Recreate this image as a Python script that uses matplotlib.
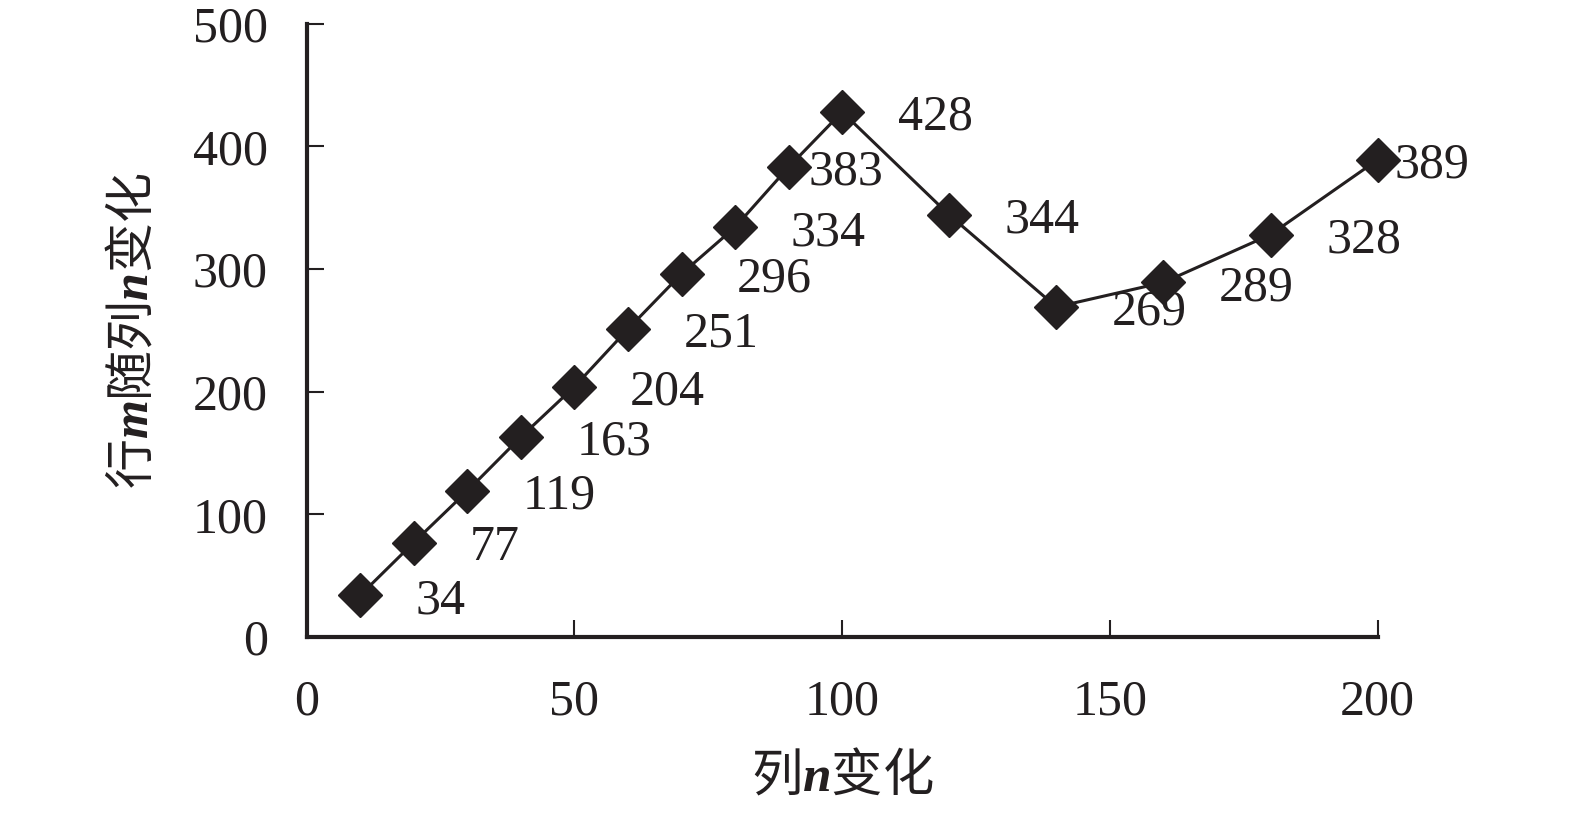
import matplotlib
matplotlib.use("Agg")
import matplotlib.pyplot as plt

plt.rcParams['font.family'] = ['Liberation Serif', 'Noto Sans CJK SC']
plt.rcParams['mathtext.fontset'] = 'custom'
plt.rcParams['mathtext.it'] = 'Liberation Serif:italic:bold'
plt.rcParams['mathtext.rm'] = 'Liberation Serif'

n_cols = [10, 20, 30, 40, 50, 60, 70, 80, 90, 100, 120, 140, 160, 180, 200]
m_rows = [34, 77, 119, 163, 204, 251, 296, 334, 383, 428, 344, 269, 289, 328, 389]
x_ticks = [0, 50, 100, 150, 200]
y_ticks = [0, 100, 200, 300, 400, 500]

fig = plt.figure(figsize=(15.75, 8.13), dpi=100)
ax = fig.add_axes([0.1947, 0.2165, 0.68, 0.7545])

ax.plot(n_cols, m_rows, color='#231f20', lw=2.2, marker='D', ms=22,
        mfc='#231f20', mec='#231f20', zorder=3, clip_on=False)

for xv, yv in zip(n_cols, m_rows):
    dx, dy = 40, -4
    if yv == 383:
        dx = 14
    if yv == 389:
        dx = 12
    ax.annotate(str(yv), (xv, yv), xytext=(dx, dy), textcoords='offset points',
                ha='left', va='center', fontsize=36, color='#231f20')

ax.set_xlim(0, 200)
ax.set_ylim(0, 500)
ax.set_xticks(x_ticks)
ax.set_yticks(y_ticks)
ax.tick_params(direction='in', length=12, width=1.5, labelsize=36,
               colors='#231f20', pad=28)
ax.tick_params(axis='x', pad=30)
for s in ['top', 'right']:
    ax.spines[s].set_visible(False)
for s in ['left', 'bottom']:
    ax.spines[s].set_linewidth(3)
    ax.spines[s].set_color('#231f20')

ax.set_xlabel('列$n$变化', fontsize=37, color='#231f20', labelpad=18,
              family='Noto Sans CJK SC')
ax.set_ylabel('行$m$随列$n$变化', fontsize=36, color='#231f20', labelpad=24,
              family='Noto Sans CJK SC')

fig.savefig('out.png', dpi=100)
